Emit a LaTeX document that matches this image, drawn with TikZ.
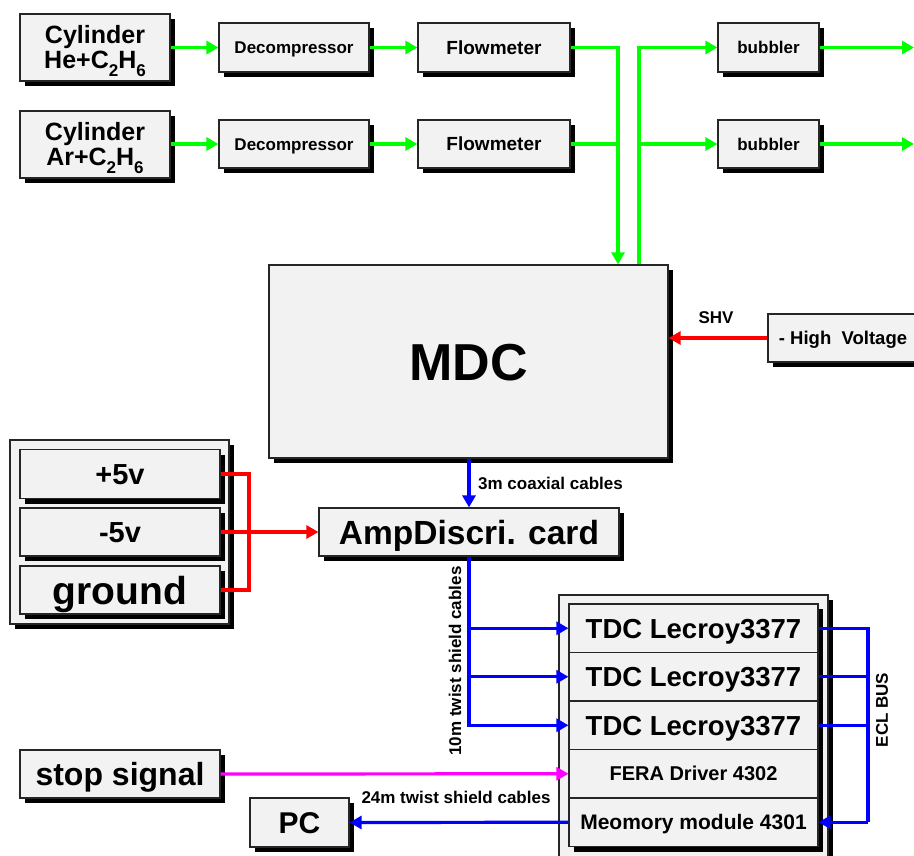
\documentclass[tikz,border=0pt]{standalone}
\usepackage{fontspec}
\setmainfont{Liberation Sans}
\usetikzlibrary{arrows.meta,shadows}
\definecolor{boxfill}{HTML}{F2F2F2}
\definecolor{gcol}{RGB}{0,255,0}
\definecolor{rcol}{RGB}{255,0,0}
\definecolor{bcol}{RGB}{0,0,255}
\definecolor{mcol}{RGB}{255,0,255}
\newcommand{\fs}[1]{\fontsize{#1}{#1}\selectfont\bfseries}
\newcommand{\ct}[1]{\raisebox{0pt}[0.72em][0pt]{#1}}
\newcommand{\subs}[1]{\raisebox{-0.3em}{\fontsize{17}{17}\selectfont #1}}
\begin{document}
\begin{tikzpicture}[x=1pt,y=-1pt,
  box/.style={draw=black!85, line width=1.2pt, fill=boxfill, inner sep=0pt, align=center,
    drop shadow={shadow xshift=5pt, shadow yshift=-5pt, opacity=1, fill=black}},
  wire/.style={line width=3.2pt},
  arr/.style={line width=3.2pt, -{Triangle[length=12pt,width=13pt]}},
  lbl/.style={inner sep=0pt, font=\fs{17}}]
\useasboundingbox (0,0) rectangle (914,856);
\clip (0,0) rectangle (914,856);

% gas line
\node[box, minimum width=150pt, minimum height=67pt, font=\fs{25}] (cyl1) at (95,47.5)
  {\fontsize{25}{28}\selectfont \ct{Cylinder}\\\ct{He+C\subs{2}H\subs{6}}};
\node[box, minimum width=150pt, minimum height=67pt, font=\fs{25}] (cyl2) at (95,144.5)
  {\fontsize{25}{28}\selectfont \ct{Cylinder}\\\ct{Ar+C\subs{2}H\subs{6}}};
\node[box, minimum width=150pt, minimum height=49pt, font=\fs{17}] (dec1) at (294,47.5) {\ct{Decompressor}};
\node[box, minimum width=150pt, minimum height=48pt, font=\fs{17}] (dec2) at (294,144) {\ct{Decompressor}};
\node[box, minimum width=152pt, minimum height=49pt, font=\fs{19}] (fm1) at (494,47.5) {\ct{Flowmeter}};
\node[box, minimum width=152pt, minimum height=48pt, font=\fs{19}] (fm2) at (494,144) {\ct{Flowmeter}};
\node[box, minimum width=101pt, minimum height=49pt, font=\fs{17}] (bub1) at (768.5,47.5) {\ct{bubbler}};
\node[box, minimum width=101pt, minimum height=48pt, font=\fs{17}] (bub2) at (768.5,144) {\ct{bubbler}};

% MDC and HV
\node[box, minimum width=399pt, minimum height=193pt, font=\fs{52}] (mdc) at (468.5,361.5) {\ct{MDC}};
\node[box, minimum width=150pt, minimum height=48pt, font=\fs{18.5}] (hv) at (843,338) {\ct{- High\ \ Voltage}};

% power supply
\node[box, minimum width=219pt, minimum height=184pt] (pwr) at (119.5,532) {};
\node[box, minimum width=200pt, minimum height=49pt, font=\fs{29}] (p5) at (120,474) {\ct{+5v}};
\node[box, minimum width=200pt, minimum height=48pt, font=\fs{29}] (m5) at (120,532) {\ct{-5v}};
\node[box, minimum width=200pt, minimum height=48pt, font=\fs{39}] (gnd) at (120,590) {\ct{ground}};

% amp card
\node[box, minimum width=300pt, minimum height=48pt, font=\fs{33.5}] (amp) at (469,532) {\ct{AmpDiscri. card}};

% crate
\node[box, minimum width=269pt, minimum height=285pt] (crate) at (693.5,737.5) {};
\node[box, minimum width=249pt, minimum height=48.5pt, font=\fs{27.5}] (tdc1) at (693.5,628.25) {\ct{TDC Lecroy3377}};
\node[box, minimum width=249pt, minimum height=48.5pt, font=\fs{27.5}] (tdc2) at (693.5,676.75) {\ct{TDC Lecroy3377}};
\node[box, minimum width=249pt, minimum height=48.5pt, font=\fs{27.5}] (tdc3) at (693.5,725.25) {\ct{TDC Lecroy3377}};
\node[box, minimum width=249pt, minimum height=48.5pt, font=\fs{20}] (fera) at (693.5,773.75) {\ct{FERA Driver 4302}};
\node[box, minimum width=249pt, minimum height=48.5pt, font=\fs{21}] (mem) at (693.5,822.25) {\ct{Meomory module 4301}};

% stop signal, PC
\node[box, minimum width=200pt, minimum height=48pt, font=\fs{32}] (stop) at (120,774) {\ct{stop signal}};
\node[box, minimum width=99pt, minimum height=49pt, font=\fs{30}] (pc) at (299.5,822.5) {\ct{PC}};

% coordinates
\coordinate (jx) at (618,0);
\coordinate (kx) at (639,0);
\coordinate (rx) at (249,0);
\coordinate (ex) at (868,0);
\coordinate (out1) at (914,47.5);
\coordinate (out2) at (914,144);

% green gas connectors
\draw[arr, gcol] (cyl1) -- (dec1);
\draw[arr, gcol] (cyl2.east |- dec2.west) -- (dec2.west);
\draw[arr, gcol] (dec1) -- (fm1);
\draw[arr, gcol] (dec2) -- (fm2);
\draw[arr, gcol] (fm1.east) -| (jx |- mdc.north);
\draw[wire, gcol] (fm2.east) -- (fm2.east -| jx);
\draw[arr, gcol] (kx |- mdc.north) |- (bub1.west);
\draw[arr, gcol] (kx |- bub2.west) -- (bub2.west);
\draw[arr, gcol] (bub1.east) -- (out1);
\draw[arr, gcol] (bub2.east) -- (out2);

% HV
\draw[arr, rcol] (hv.west) -- (hv.west -| mdc.east);
\node[lbl] (shv) at (716,318) {SHV};

% power
\draw[wire, rcol] (p5.east) -| (rx |- gnd.east) -- (gnd.east);
\draw[arr, rcol] (m5.east) -- (amp.west);

% MDC -> amp
\draw[arr, bcol] (mdc.south -| amp.north) -- (amp.north);
\node[lbl, anchor=west] (coax) at (478,483) {3m coaxial cables};

% amp -> TDCs
\draw[arr, bcol] (amp.south) |- (tdc3.west);
\draw[arr, bcol] (amp.south |- tdc1.west) -- (tdc1.west);
\draw[arr, bcol] (amp.south |- tdc2.west) -- (tdc2.west);
\node[lbl, rotate=90] (tw10) at (455,661) {10m twist shield cables};

% ECL bus
\draw[wire, bcol] (tdc1.east) -| (ex |- mem.east);
\draw[arr, bcol] (ex |- mem.east) -- (mem.east);
\draw[wire, bcol] (tdc2.east) -- (tdc2.east -| ex);
\draw[wire, bcol] (tdc3.east) -- (tdc3.east -| ex);
\node[lbl, rotate=90] (ecl) at (882,710) {ECL BUS};

% stop signal
\draw[arr, mcol] (stop.east) -- (fera.west);

% PC
\draw[arr, bcol] (mem.west) -- (pc.east);
\node[lbl] (tw24) at (456,797) {24m twist shield cables};
\end{tikzpicture}
\end{document}
